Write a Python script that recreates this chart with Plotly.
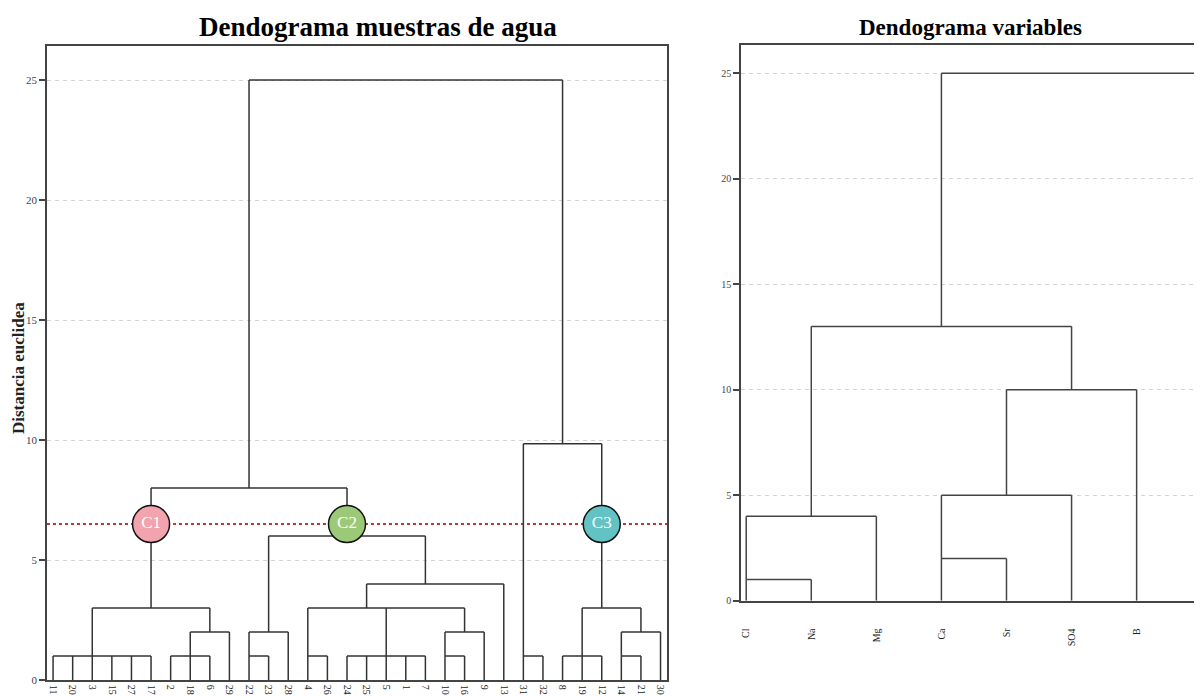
import plotly.graph_objects as go

# ---------------- data ----------------
left_leaves = ["11", "20", "3", "15", "27", "17", "2", "18", "6", "29", "22", "23", "28",
               "4", "26", "24", "25", "5", "1", "7", "10", "16", "9", "13", "31", "32",
               "8", "19", "12", "14", "21", "30"]

# merges: (children, height, leaf column of the upward connector)
left_merge_names = ["m1", "m2", "m3", "m4", "m5", "m6", "m7", "m8", "m9", "m10", "m11",
                    "m12", "m13", "m14", "m15", "m16", "m17", "m18", "m19", "m20", "m21"]
left_merge_children = [
    ["11", "20", "3", "15", "27", "17"],
    ["2", "18", "6"],
    ["m2", "29"],
    ["m1", "m3"],
    ["22", "23"],
    ["m5", "28"],
    ["4", "26"],
    ["24", "25", "5", "1", "7"],
    ["10", "16"],
    ["m9", "9"],
    ["m7", "m8", "m10"],
    ["m11", "13"],
    ["m6", "m12"],
    ["m4", "m13"],
    ["31", "32"],
    ["8", "19", "12"],
    ["14", "21"],
    ["m17", "30"],
    ["m16", "m18"],
    ["m15", "m19"],
    ["m14", "m20"],
]
left_merge_heights = [1, 1, 2, 3, 1, 2, 1, 1, 1, 2, 3, 4, 6, 8, 1, 1, 1, 2, 3, 9.85, 25]
left_merge_links = ["3", "18", "6", "17", "22", "23", "4", "5", "10", "16", "25", "7",
                    "24", "22", "31", "19", "14", "21", "12", "8", None]

cut_height = 6.5
cluster_names = ["C1", "C2", "C3"]
cluster_nodes = ["m4", "m13", "m19"]
cluster_colors = ["#F2A3AE", "#9CC977", "#62C2C4"]

right_leaves = ["Cl", "Na", "Mg", "Ca", "Sr", "SO4", "B", "HCO3"]
right_merge_names = ["r1", "r2", "r3", "r4", "r5", "r6", "r7"]
right_merge_children = [
    ["Cl", "Na"],
    ["r1", "Mg"],
    ["Ca", "Sr"],
    ["r3", "SO4"],
    ["r4", "B"],
    ["r2", "r5"],
    ["r6", "HCO3"],
]
right_merge_heights = [1, 4, 2, 5, 10, 13, 25]
right_merge_links = ["Cl", "Na", "Ca", "Sr", "SO4", "Ca", None]

y_ticks = [0, 5, 10, 15, 20, 25]


def dendro_segments(leaves, names, children, heights, links):
    pos = {lab: i for i, lab in enumerate(leaves)}
    node_x = dict(pos)
    node_h = {lab: 0 for lab in leaves}
    for n, h, l in zip(names, heights, links):
        node_h[n] = h
        node_x[n] = pos[l] if l is not None else None
    xs, ys = [], []
    for n, ch, h in zip(names, children, heights):
        cx = [node_x[c] for c in ch]
        xs += [min(cx), max(cx), None]
        ys += [h, h, None]
        for c in ch:
            xs += [node_x[c], node_x[c], None]
            ys += [node_h[c], h, None]
    return xs, ys, node_x


# page offset (default body margin of the html page)
OX, OY = 8, 8
W, H = 1202 - 2 * OX, 696 - OY


def px_x(X):
    return (X - OX) / W


def px_y(Y):
    return (H - (Y - OY)) / H


serif = "Liberation Serif"
axis_col = "#444444"
grid_col = "#d2d2d2"
grid_dash = "4px,4px"

lx, ly, lnode_x = dendro_segments(left_leaves, left_merge_names, left_merge_children,
                                  left_merge_heights, left_merge_links)
rx, ry, rnode_x = dendro_segments(right_leaves, right_merge_names, right_merge_children,
                                  right_merge_heights, right_merge_links)

fig = go.Figure()
fig.add_trace(go.Scatter(x=lx, y=ly, mode="lines", xaxis="x", yaxis="y",
                         line=dict(color="#333333", width=1.5), hoverinfo="skip",
                         showlegend=False))
fig.add_trace(go.Scatter(x=rx, y=ry, mode="lines", xaxis="x2", yaxis="y2",
                         line=dict(color="#444444", width=1.5), hoverinfo="skip",
                         showlegend=False))

# cut line
fig.add_shape(type="line", xref="x domain", yref="y", x0=0, x1=1, y0=cut_height, y1=cut_height,
              layer="below", line=dict(color="#C0392B", width=2, dash="dot"))

# cluster circles
fig.add_trace(go.Scatter(
    x=[lnode_x[n] for n in cluster_nodes], y=[cut_height] * len(cluster_nodes),
    mode="markers+text", xaxis="x", yaxis="y",
    marker=dict(size=37, color=cluster_colors, line=dict(color="#111111", width=1.5)),
    text=cluster_names, textposition="middle center",
    textfont=dict(family=serif, size=17, color="white"),
    hoverinfo="skip", showlegend=False))

n_left = len(left_leaves)
right_px_end = 1202 - OX  # right end of the visible page
right_range_end = (right_px_end - 746) / ((1201.7 - 746) / (len(right_leaves) - 1))

fig.update_layout(
    width=W, height=H,
    margin=dict(l=0, r=0, t=0, b=0),
    paper_bgcolor="white", plot_bgcolor="white",
    showlegend=False,
    xaxis=dict(domain=[px_x(47), px_x(667)], range=[-0.31, n_left - 1 + 0.33],
               tickmode="array", tickvals=list(range(n_left)), ticktext=left_leaves,
               tickangle=90, ticks="", showgrid=False, zeroline=False,
               showline=True, linecolor=axis_col, linewidth=1.5, mirror=True,
               tickfont=dict(family=serif, size=10, color="#222222"),
               ticklabelstandoff=1, anchor="y", automargin=False),
    yaxis=dict(domain=[px_y(680), px_y(46)], range=[0, 26.42],
               tickmode="array", tickvals=y_ticks, ticks="outside", ticklen=6,
               tickcolor=axis_col, tickwidth=1.5,
               showgrid=True, gridcolor=grid_col, griddash=grid_dash, gridwidth=1,
               zeroline=False, showline=True, linecolor=axis_col, linewidth=1.5,
               mirror=True, tickfont=dict(family=serif, size=11, color="#444444"),
               anchor="x", automargin=False),
    xaxis2=dict(domain=[px_x(741), 1.0], range=[-0.08, right_range_end],
                tickmode="array", tickvals=list(range(len(right_leaves))),
                ticktext=right_leaves,
                tickangle=-90, ticks="", showgrid=False, zeroline=False,
                showline=True, linecolor=axis_col, linewidth=1.5, mirror=True,
                tickfont=dict(family=serif, size=10, color="#222222"),
                ticklabelstandoff=22, anchor="y2", automargin=False),
    yaxis2=dict(domain=[px_y(600.7), px_y(45)], range=[0, 26.34],
                tickmode="array", tickvals=y_ticks, ticks="outside", ticklen=6,
                tickcolor=axis_col, tickwidth=1.5,
                showgrid=True, gridcolor=grid_col, griddash=grid_dash, gridwidth=1,
                zeroline=False, showline=True, linecolor=axis_col, linewidth=1.5,
                mirror=False, tickfont=dict(family=serif, size=10, color="#444444"),
                anchor="x2", automargin=False),
    annotations=[
        dict(text="<b>Dendograma muestras de agua</b>", xref="paper", yref="paper",
             x=px_x(378), y=px_y(27), xanchor="center", yanchor="middle",
             showarrow=False, font=dict(family=serif, size=27, color="black")),
        dict(text="<b>Dendograma variables</b>", xref="paper", yref="paper",
             x=px_x(970), y=px_y(27), xanchor="center", yanchor="middle",
             showarrow=False, font=dict(family=serif, size=23, color="black")),
        dict(text="<b>Distancia euclidea</b>", xref="paper", yref="paper",
             x=px_x(18), y=px_y(368), xanchor="center", yanchor="middle",
             textangle=-90, showarrow=False,
             font=dict(family=serif, size=17, color="#222222")),
    ],
)

fig.write_html("out.html")
